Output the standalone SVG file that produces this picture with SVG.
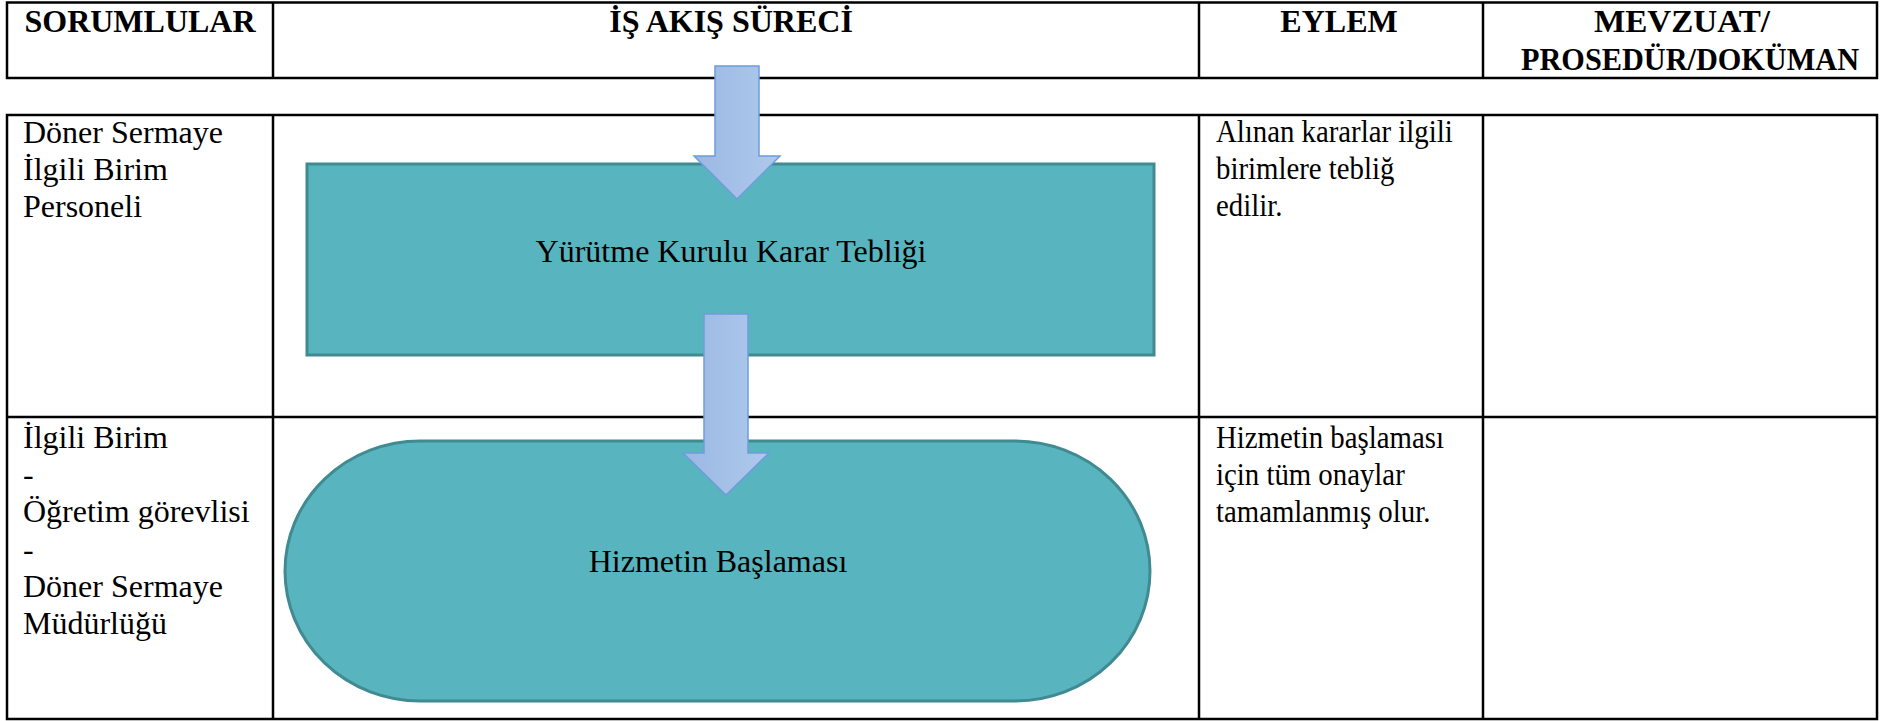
<svg xmlns="http://www.w3.org/2000/svg" width="1885" height="721" viewBox="0 0 1885 721">
  <style>
    .grid { fill: none; stroke: #000; stroke-width: 2.5; }
    .hdr { font-family: "Liberation Serif", "Times New Roman", serif; font-weight: bold; font-size: 32px; fill: #000; text-anchor: middle; }
    .txt { font-family: "Liberation Serif", "Times New Roman", serif; font-size: 32px; fill: #000; }
    .mid { text-anchor: middle; }
    .shape { fill: #58B4BE; stroke: #408A91; stroke-width: 3; }
    .arrow { fill: url(#arrowGrad); stroke: #6F9CDB; stroke-width: 1.5; stroke-linejoin: miter; }
  </style>
  <defs>
    <linearGradient id="arrowGrad" x1="0" y1="0" x2="1" y2="0">
      <stop offset="0" stop-color="#9AB8E3"/>
      <stop offset="1" stop-color="#AFC9EC"/>
    </linearGradient>
  </defs>
  <rect width="1885" height="721" fill="#fff"/>

  <g id="table">
    <rect class="grid" x="7" y="2.5" width="1870" height="75.5"/>
    <line class="grid" x1="273" y1="2.5" x2="273" y2="78"/>
    <line class="grid" x1="1199" y1="2.5" x2="1199" y2="78"/>
    <line class="grid" x1="1483" y1="2.5" x2="1483" y2="78"/>
    <rect class="grid" x="7" y="115" width="1870" height="604"/>
    <line class="grid" x1="7" y1="417" x2="1877" y2="417"/>
    <line class="grid" x1="273" y1="115" x2="273" y2="719"/>
    <line class="grid" x1="1199" y1="115" x2="1199" y2="719"/>
    <line class="grid" x1="1483" y1="115" x2="1483" y2="719"/>
  </g>

  <g id="headers">
    <text class="hdr" x="140" y="32">SORUMLULAR</text>
    <text class="hdr" x="731" y="32">İŞ AKIŞ SÜRECİ</text>
    <text class="hdr" x="1339" y="32">EYLEM</text>
    <text class="hdr" x="1682" y="32" textLength="176" lengthAdjust="spacingAndGlyphs">MEVZUAT/</text>
    <text class="hdr" x="1690" y="70" textLength="338" lengthAdjust="spacingAndGlyphs">PROSEDÜR/DOKÜMAN</text>
  </g>

  <g id="row1-responsible">
    <text class="txt" x="23" y="143">Döner Sermaye</text>
    <text class="txt" x="23" y="180.2">İlgili Birim</text>
    <text class="txt" x="23" y="217.4">Personeli</text>
  </g>
  <g id="row1-action" transform="translate(1216,0) scale(0.9,1)">
    <text class="txt" x="0" y="142">Alınan kararlar ilgili</text>
    <text class="txt" x="0" y="179.2">birimlere tebliğ</text>
    <text class="txt" x="0" y="216.4">edilir.</text>
  </g>
  <g id="row2-responsible">
    <text class="txt" x="23" y="448">İlgili Birim</text>
    <text class="txt" x="23" y="485.2">-</text>
    <text class="txt" x="23" y="522.4">Öğretim görevlisi</text>
    <text class="txt" x="23" y="559.6">-</text>
    <text class="txt" x="23" y="596.8">Döner Sermaye</text>
    <text class="txt" x="23" y="634">Müdürlüğü</text>
  </g>
  <g id="row2-action" transform="translate(1216,0) scale(0.9,1)">
    <text class="txt" x="0" y="448">Hizmetin başlaması</text>
    <text class="txt" x="0" y="485.2">için tüm onaylar</text>
    <text class="txt" x="0" y="522.4">tamamlanmış olur.</text>
  </g>

  <g id="node-teblig">
    <rect class="shape" x="307" y="164" width="847" height="191"/>
    <text class="txt mid" x="731" y="262">Yürütme Kurulu Karar Tebliği</text>
  </g>
  <g id="node-baslama">
    <rect class="shape" x="285" y="441" width="865" height="260" rx="135" ry="130"/>
    <text class="txt mid" x="718" y="572">Hizmetin Başlaması</text>
  </g>

  <g id="connectors">
    <path class="arrow" d="M715,66 L759,66 L759,156 L780,156 L737,199 L694,156 L715,156 Z"/>
    <path class="arrow" d="M704,314 L748,314 L748,453 L769,453 L726,495 L683,453 L704,453 Z"/>
  </g>
</svg>
